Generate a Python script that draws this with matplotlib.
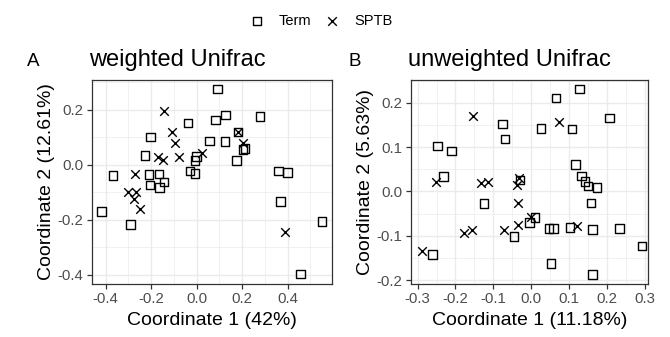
import numpy as np
import matplotlib.pyplot as plt
from matplotlib.ticker import MultipleLocator

plt.rcParams['font.family'] = ['Liberation Sans', 'DejaVu Sans']
plt.rcParams['axes.unicode_minus'] = False

# PCoA coordinates, weighted Unifrac
wu_term_x = [-0.038, -0.203, -0.228, 0.000, -0.007, -0.367, -0.209, -0.166, -0.030, -0.007,
             -0.206, -0.144, -0.163, -0.419, -0.292, 0.092, 0.128, 0.084, 0.279, 0.183,
             0.056, 0.125, 0.205, 0.212, 0.176, 0.360, 0.400, 0.370, 0.551, 0.458]
wu_term_y = [0.152, 0.101, 0.033, 0.030, 0.015, -0.039, -0.036, -0.033, -0.022, -0.032,
             -0.073, -0.063, -0.082, -0.170, -0.218, 0.276, 0.182, 0.164, 0.176, 0.119,
             0.087, 0.085, 0.055, 0.060, 0.015, -0.022, -0.027, -0.133, -0.206, -0.397]
wu_sptb_x = [-0.143, -0.110, -0.093, -0.172, -0.147, -0.077, -0.270, -0.301, -0.267, -0.276,
             -0.250, 0.183, 0.205, 0.022, 0.389]
wu_sptb_y = [0.197, 0.119, 0.079, 0.030, 0.018, 0.030, -0.033, -0.099, -0.099, -0.124,
             -0.160, 0.119, 0.079, 0.042, -0.246]

# PCoA coordinates, unweighted Unifrac
uu_term_x = [-0.075, -0.069, -0.247, -0.210, -0.232, -0.029, -0.124, -0.004, -0.045, -0.261,
             0.128, 0.066, 0.207, 0.026, 0.108, 0.118, 0.134, 0.143, 0.150, 0.174,
             0.158, 0.011, 0.048, 0.059, 0.103, 0.162, 0.234, 0.293, 0.053, 0.162]
uu_term_y = [0.152, 0.118, 0.103, 0.091, 0.034, 0.026, -0.027, -0.070, -0.102, -0.142,
             0.231, 0.211, 0.166, 0.142, 0.141, 0.061, 0.035, 0.023, 0.012, 0.009,
             -0.026, -0.059, -0.084, -0.084, -0.082, -0.086, -0.084, -0.123, -0.163, -0.187]
uu_sptb_x = [-0.154, -0.252, -0.133, -0.115, -0.031, -0.038, -0.034, 0.000, -0.034, -0.177,
             -0.157, -0.071, -0.288, 0.074, 0.121]
uu_sptb_y = [0.171, 0.022, 0.020, 0.022, 0.031, 0.014, -0.027, -0.057, -0.076, -0.093,
             -0.087, -0.087, -0.135, 0.156, -0.078]

fig = plt.figure(figsize=(6.7, 3.37), dpi=100)
axA = fig.add_axes([0.1369, 0.1573, 0.3591, 0.6053])
axB = fig.add_axes([0.6134, 0.1573, 0.3542, 0.6053])


def style(ax, xmaj, ymaj):
    ax.margins(0.05)
    ax.xaxis.set_major_locator(MultipleLocator(xmaj))
    ax.xaxis.set_minor_locator(MultipleLocator(xmaj / 2))
    ax.yaxis.set_major_locator(MultipleLocator(ymaj))
    ax.yaxis.set_minor_locator(MultipleLocator(ymaj / 2))
    ax.grid(which='major', color='#EBEBEB', linewidth=1.0)
    ax.grid(which='minor', color='#EBEBEB', linewidth=0.5)
    ax.set_axisbelow(True)
    for s in ax.spines.values():
        s.set_color('#333333')
        s.set_linewidth(0.9)
    ax.tick_params(which='major', length=3.5, width=0.9, color='#333333',
                   labelsize=10.8, labelcolor='#4D4D4D', pad=2.5)
    ax.tick_params(which='minor', length=0)


def draw(ax, tx, ty, sx, sy):
    t = ax.scatter(tx, ty, marker='s', s=38, facecolors='none', edgecolors='black',
                   linewidths=1.0, label='Term')
    x = ax.scatter(sx, sy, marker='x', s=38, color='black', linewidths=1.0, label='SPTB')
    return t, x


h1, h2 = draw(axA, wu_term_x, wu_term_y, wu_sptb_x, wu_sptb_y)
draw(axB, uu_term_x, uu_term_y, uu_sptb_x, uu_sptb_y)

style(axA, 0.2, 0.2)
style(axB, 0.1, 0.1)
axA.set_xlim(-0.4615, 0.597)
axA.set_ylim(-0.434, 0.309)
axB.set_xlim(-0.3175, 0.310)
axB.set_ylim(-0.209, 0.2515)

axA.set_xlabel('Coordinate 1 (42%)', fontsize=14, labelpad=4)
axA.set_ylabel('Coordinate 2 (12.61%)', fontsize=14, labelpad=2)
axB.set_xlabel('Coordinate 1 (11.18%)', fontsize=14, labelpad=4)
axB.set_ylabel('Coordinate 2 (5.63%)', fontsize=14, labelpad=2)

fig.text(89 / 670, 1 - 66 / 337, 'weighted Unifrac', fontsize=17, ha='left', va='baseline')
fig.text(408 / 670, 1 - 66 / 337, 'unweighted Unifrac', fontsize=17, ha='left', va='baseline')
fig.text(27 / 670, 1 - 66 / 337, 'A', fontsize=13.5, ha='left', va='baseline')
fig.text(348 / 670, 1 - 66 / 337, 'B', fontsize=13.5, ha='left', va='baseline')

fig.legend(handles=[h1, h2], loc='center', bbox_to_anchor=(0.479, 1 - 21 / 337), ncol=2,
           frameon=False, fontsize=10.5, handletextpad=1.0, columnspacing=0.9,
           handlelength=1.0)

fig.savefig('out.png', dpi=100)
